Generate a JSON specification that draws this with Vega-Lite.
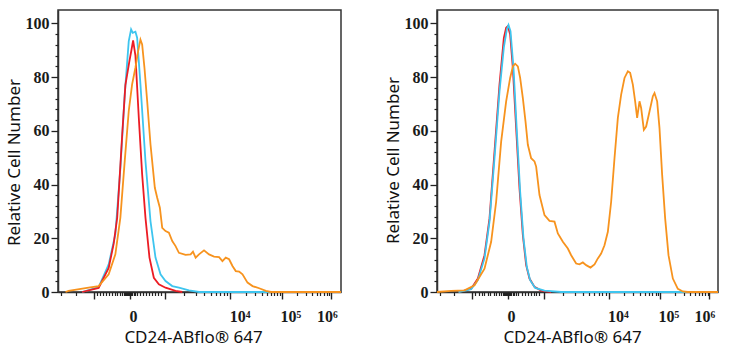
{
  "$schema": "https://vega.github.io/schema/vega-lite/v6.json",
  "padding": {"left": 4, "top": 9, "right": 5, "bottom": 0},
  "spacing": 37,
  "datasets": {
    "left": [
      {"s":"blue","x":-0.95,"y":0},{"s":"blue","x":-0.62,"y":1.8},{"s":"blue","x":-0.42,"y":10.3},{"s":"blue","x":-0.287,"y":21.5},{"s":"blue","x":-0.187,"y":46},{"s":"blue","x":-0.1,"y":73.6},{"s":"blue","x":-0.02,"y":93.4},{"s":"blue","x":0.027,"y":97.8},{"s":"blue","x":0.06,"y":96.5},{"s":"blue","x":0.113,"y":96.9},{"s":"blue","x":0.147,"y":94.7},{"s":"blue","x":0.213,"y":77.3},{"s":"blue","x":0.313,"y":48.8},{"s":"blue","x":0.413,"y":26.4},{"s":"blue","x":0.513,"y":12.8},{"s":"blue","x":0.613,"y":6.6},{"s":"blue","x":0.713,"y":4.1},{"s":"blue","x":0.847,"y":2.2},{"s":"blue","x":0.98,"y":1.6},{"s":"blue","x":1.18,"y":0.6},{"s":"blue","x":1.38,"y":0},{"s":"blue","x":4.21,"y":0},
      {"s":"red","x":-0.95,"y":0},{"s":"red","x":-0.62,"y":1.5},{"s":"red","x":-0.42,"y":9},{"s":"red","x":-0.32,"y":18},{"s":"red","x":-0.25,"y":27.7},{"s":"red","x":-0.21,"y":40},{"s":"red","x":-0.15,"y":58.7},{"s":"red","x":-0.087,"y":77},{"s":"red","x":-0.007,"y":86},{"s":"red","x":0.033,"y":90},{"s":"red","x":0.067,"y":93.7},{"s":"red","x":0.113,"y":88},{"s":"red","x":0.18,"y":65},{"s":"red","x":0.247,"y":43.8},{"s":"red","x":0.313,"y":27.7},{"s":"red","x":0.393,"y":12.8},{"s":"red","x":0.48,"y":5.3},{"s":"red","x":0.58,"y":2.9},{"s":"red","x":0.713,"y":1.6},{"s":"red","x":0.913,"y":0.4},{"s":"red","x":1.047,"y":0},
      {"s":"orange","x":-1.28,"y":0},{"s":"orange","x":-1.22,"y":0.4},{"s":"orange","x":-0.82,"y":1.6},{"s":"orange","x":-0.62,"y":2.2},{"s":"orange","x":-0.42,"y":6.6},{"s":"orange","x":-0.287,"y":14},{"s":"orange","x":-0.187,"y":27.7},{"s":"orange","x":-0.1,"y":48.8},{"s":"orange","x":-0.02,"y":67.4},{"s":"orange","x":0.047,"y":77.3},{"s":"orange","x":0.113,"y":83.5},{"s":"orange","x":0.167,"y":89.7},{"s":"orange","x":0.213,"y":94},{"s":"orange","x":0.247,"y":92.2},{"s":"orange","x":0.293,"y":83.5},{"s":"orange","x":0.347,"y":71.1},{"s":"orange","x":0.413,"y":55},{"s":"orange","x":0.5,"y":38.8},{"s":"orange","x":0.547,"y":35.1},{"s":"orange","x":0.6,"y":31.4},{"s":"orange","x":0.647,"y":23.9},{"s":"orange","x":0.713,"y":22.7},{"s":"orange","x":0.78,"y":22.1},{"s":"orange","x":0.847,"y":19},{"s":"orange","x":0.913,"y":17.1},{"s":"orange","x":0.98,"y":14.6},{"s":"orange","x":1.113,"y":13.8},{"s":"orange","x":1.213,"y":14},{"s":"orange","x":1.26,"y":15},{"s":"orange","x":1.313,"y":12.8},{"s":"orange","x":1.38,"y":14},{"s":"orange","x":1.48,"y":15.5},{"s":"orange","x":1.58,"y":14},{"s":"orange","x":1.68,"y":13.2},{"s":"orange","x":1.78,"y":13},{"s":"orange","x":1.847,"y":11.5},{"s":"orange","x":1.913,"y":12.8},{"s":"orange","x":1.98,"y":12.2},{"s":"orange","x":2.047,"y":9.7},{"s":"orange","x":2.113,"y":7.8},{"s":"orange","x":2.18,"y":7.6},{"s":"orange","x":2.247,"y":6.6},{"s":"orange","x":2.347,"y":3.5},{"s":"orange","x":2.447,"y":2.2},{"s":"orange","x":2.58,"y":1.4},{"s":"orange","x":2.713,"y":0.4},{"s":"orange","x":2.813,"y":0},{"s":"orange","x":4.21,"y":0}
    ],
    "right": [
      {"s":"red","x":-1.0,"y":0},{"s":"red","x":-0.747,"y":1.2},{"s":"red","x":-0.613,"y":5},{"s":"red","x":-0.48,"y":13.7},{"s":"red","x":-0.38,"y":27.4},{"s":"red","x":-0.28,"y":52.3},{"s":"red","x":-0.18,"y":77.2},{"s":"red","x":-0.093,"y":94.6},{"s":"red","x":-0.047,"y":98.4},{"s":"red","x":-0.013,"y":99},{"s":"red","x":0.033,"y":95.9},{"s":"red","x":0.087,"y":83.4},{"s":"red","x":0.153,"y":61},{"s":"red","x":0.22,"y":38.6},{"s":"red","x":0.287,"y":21.2},{"s":"red","x":0.353,"y":10},{"s":"red","x":0.42,"y":5},{"s":"red","x":0.52,"y":1.9},{"s":"red","x":0.653,"y":0.5},{"s":"red","x":0.853,"y":0},
      {"s":"blue","x":-1.0,"y":0},{"s":"blue","x":-0.747,"y":1},{"s":"blue","x":-0.613,"y":4.4},{"s":"blue","x":-0.48,"y":12.5},{"s":"blue","x":-0.38,"y":26.2},{"s":"blue","x":-0.28,"y":49.8},{"s":"blue","x":-0.18,"y":74.7},{"s":"blue","x":-0.093,"y":91.1},{"s":"blue","x":-0.033,"y":97.8},{"s":"blue","x":0,"y":99.4},{"s":"blue","x":0.04,"y":97.1},{"s":"blue","x":0.1,"y":83.4},{"s":"blue","x":0.167,"y":59.8},{"s":"blue","x":0.233,"y":37.4},{"s":"blue","x":0.3,"y":19.9},{"s":"blue","x":0.367,"y":9.3},{"s":"blue","x":0.433,"y":4.4},{"s":"blue","x":0.533,"y":1.5},{"s":"blue","x":0.72,"y":0.5},{"s":"blue","x":1.053,"y":0},{"s":"blue","x":4.19,"y":0},
      {"s":"orange","x":-1.43,"y":0},{"s":"orange","x":-1.147,"y":0.4},{"s":"orange","x":-0.88,"y":0.6},{"s":"orange","x":-0.68,"y":2.5},{"s":"orange","x":-0.48,"y":8.7},{"s":"orange","x":-0.347,"y":18.7},{"s":"orange","x":-0.247,"y":33.6},{"s":"orange","x":-0.147,"y":56},{"s":"orange","x":-0.047,"y":71},{"s":"orange","x":0.033,"y":79.7},{"s":"orange","x":0.087,"y":84},{"s":"orange","x":0.133,"y":85},{"s":"orange","x":0.187,"y":84},{"s":"orange","x":0.233,"y":79.7},{"s":"orange","x":0.287,"y":72.2},{"s":"orange","x":0.34,"y":63.5},{"s":"orange","x":0.387,"y":54.8},{"s":"orange","x":0.453,"y":49.8},{"s":"orange","x":0.52,"y":48.6},{"s":"orange","x":0.553,"y":46.7},{"s":"orange","x":0.62,"y":36.1},{"s":"orange","x":0.72,"y":28.6},{"s":"orange","x":0.82,"y":26.5},{"s":"orange","x":0.92,"y":26.2},{"s":"orange","x":0.987,"y":21.8},{"s":"orange","x":1.087,"y":18.7},{"s":"orange","x":1.187,"y":16.2},{"s":"orange","x":1.253,"y":13.7},{"s":"orange","x":1.353,"y":10.6},{"s":"orange","x":1.42,"y":10.3},{"s":"orange","x":1.487,"y":11},{"s":"orange","x":1.553,"y":10},{"s":"orange","x":1.64,"y":9.1},{"s":"orange","x":1.72,"y":10.3},{"s":"orange","x":1.787,"y":12.5},{"s":"orange","x":1.853,"y":14.3},{"s":"orange","x":1.92,"y":17.4},{"s":"orange","x":1.987,"y":22.4},{"s":"orange","x":2.053,"y":33.6},{"s":"orange","x":2.12,"y":49.8},{"s":"orange","x":2.187,"y":64.8},{"s":"orange","x":2.253,"y":73.5},{"s":"orange","x":2.32,"y":79.7},{"s":"orange","x":2.387,"y":82.2},{"s":"orange","x":2.433,"y":81.6},{"s":"orange","x":2.487,"y":77.2},{"s":"orange","x":2.533,"y":71},{"s":"orange","x":2.573,"y":64.8},{"s":"orange","x":2.62,"y":71},{"s":"orange","x":2.653,"y":68.5},{"s":"orange","x":2.707,"y":60.4},{"s":"orange","x":2.753,"y":61.6},{"s":"orange","x":2.82,"y":67.2},{"s":"orange","x":2.887,"y":72.9},{"s":"orange","x":2.92,"y":74.1},{"s":"orange","x":2.973,"y":71},{"s":"orange","x":3.02,"y":61},{"s":"orange","x":3.073,"y":43.6},{"s":"orange","x":3.133,"y":27.4},{"s":"orange","x":3.2,"y":13.7},{"s":"orange","x":3.287,"y":5},{"s":"orange","x":3.387,"y":1.2},{"s":"orange","x":3.487,"y":0.2},{"s":"orange","x":3.587,"y":0},{"s":"orange","x":4.19,"y":0}
    ]
  },
  "hconcat": [
    {
      "width": 283, "height": 282,
      "data": {"name": "left"},
      "layer": [
        {
          "transform": [{"filter": "datum.s == 'blue'"}],
          "mark": {"type": "line", "color": "#3ec5ef", "strokeWidth": 1.8},
          "encoding": {
            "x": {"field": "x", "type": "quantitative", "scale": {"domain": [-1.43, 4.21], "nice": false, "zero": false},
              "axis": {"orient": "bottom", "values": [0.066, 2.19, 3.2, 3.93], "ticks": false, "tickSize": 0,
                "labelExpr": "datum.value < 1 ? '0' : datum.value < 3 ? '10⁴' : datum.value < 3.5 ? '10⁵' : '10⁶'",
                "labelFont": "Liberation Serif", "labelFontSize": 16, "labelFontWeight": "bold", "labelColor": "#1a1a1a", "labelPadding": 16, "labelFlush": false, "labelOverlap": false,
                "domainColor": "#333", "domainWidth": 1.5, "grid": false,
                "title": "CD24-ABflo® 647", "titleFont": "Noto Sans", "titleFontSize": 17, "titleFontWeight": "normal", "titleColor": "#111", "titlePadding": 5, "titleX": 135}},
            "y": {"field": "y", "type": "quantitative", "scale": {"domain": [0, 105], "nice": false},
              "axis": {"orient": "left", "values": [0, 20, 40, 60, 80, 100], "tickSize": 7, "tickWidth": 1.3, "tickColor": "#222",
                "labelFont": "Liberation Serif", "labelFontSize": 16, "labelFontWeight": "bold", "labelColor": "#1a1a1a", "labelPadding": 2,
                "domainColor": "#333", "domainWidth": 1.5, "grid": false,
                "title": "Relative Cell Number", "titleFont": "Noto Sans", "titleFontSize": 17, "titleFontWeight": "normal", "titleColor": "#111", "titlePadding": 2, "titleY": 152}}
          }
        },
        {
          "transform": [{"filter": "datum.s == 'red'"}],
          "mark": {"type": "line", "color": "#ec1c24", "strokeWidth": 1.8},
          "encoding": {
            "x": {"field": "x", "type": "quantitative", "scale": {"domain": [-1.43, 4.21], "nice": false, "zero": false},
              "axis": {"orient": "bottom", "values": [-0.72, 0, 0.7, 2, 3.04, 4.02], "tickSize": 7, "tickWidth": 1.4, "tickColor": "#222",
                "labels": false, "domain": false, "grid": false, "title": null}},
            "y": {"field": "y", "type": "quantitative", "scale": {"domain": [0, 105], "nice": false},
              "axis": {"orient": "left", "values": [4, 8, 12, 16, 24, 28, 32, 36, 44, 48, 52, 56, 64, 68, 72, 76, 84, 88, 92, 96],
                "tickSize": 3, "tickWidth": 1.2, "tickColor": "#222", "labels": false, "domain": false, "grid": false, "title": null}}
          }
        },
        {
          "transform": [{"filter": "datum.s == 'orange'"}],
          "mark": {"type": "line", "color": "#f7931e", "strokeWidth": 1.8},
          "encoding": {
            "x": {"field": "x", "type": "quantitative", "scale": {"domain": [-1.43, 4.21], "nice": false, "zero": false},
              "axis": {"orient": "bottom", "values": [-1.37, -1.08, -0.66, -0.6, -0.54, -0.48, -0.42, -0.36, -0.3, -0.25, -0.2, -0.16, -0.12, -0.09, -0.07, -0.05, -0.03, -0.01, 0.01, 0.03, 0.05, 0.08, 0.11, 0.15, 0.2, 0.26, 0.32, 0.38, 0.44, 0.5, 0.56, 0.62, 1.09, 1.32, 1.48, 1.61, 1.71, 1.8, 1.87, 1.94, 2.31, 2.5, 2.63, 2.73, 2.81, 2.88, 2.94, 2.99, 3.34, 3.51, 3.63, 3.73, 3.8, 3.87, 3.93, 3.98],
                "tickSize": 3.5, "tickWidth": 1.2, "tickColor": "#222", "labels": false, "domain": false, "grid": false, "title": null}},
            "y": {"field": "y", "type": "quantitative", "scale": {"domain": [0, 105], "nice": false}, "axis": null}
          }
        }
      ],
      "resolve": {"axis": {"x": "independent", "y": "independent"}}
    },
    {
      "width": 281, "height": 282,
      "data": {"name": "right"},
      "layer": [
        {
          "transform": [{"filter": "datum.s == 'red'"}],
          "mark": {"type": "line", "color": "#ec1c24", "strokeWidth": 1.8},
          "encoding": {
            "x": {"field": "x", "type": "quantitative", "scale": {"domain": [-1.43, 4.19], "nice": false, "zero": false},
              "axis": {"orient": "bottom", "values": [0.05, 2.19, 3.2, 3.92], "ticks": false, "tickSize": 0,
                "labelExpr": "datum.value < 1 ? '0' : datum.value < 3 ? '10⁴' : datum.value < 3.5 ? '10⁵' : '10⁶'",
                "labelFont": "Liberation Serif", "labelFontSize": 16, "labelFontWeight": "bold", "labelColor": "#1a1a1a", "labelPadding": 16, "labelFlush": false, "labelOverlap": false,
                "domainColor": "#333", "domainWidth": 1.5, "grid": false,
                "title": "CD24-ABflo® 647", "titleFont": "Noto Sans", "titleFontSize": 17, "titleFontWeight": "normal", "titleColor": "#111", "titlePadding": 5, "titleX": 135}},
            "y": {"field": "y", "type": "quantitative", "scale": {"domain": [0, 105], "nice": false},
              "axis": {"orient": "left", "values": [0, 20, 40, 60, 80, 100], "tickSize": 7, "tickWidth": 1.3, "tickColor": "#222",
                "labelFont": "Liberation Serif", "labelFontSize": 16, "labelFontWeight": "bold", "labelColor": "#1a1a1a", "labelPadding": 2,
                "domainColor": "#333", "domainWidth": 1.5, "grid": false,
                "title": "Relative Cell Number", "titleFont": "Noto Sans", "titleFontSize": 17, "titleFontWeight": "normal", "titleColor": "#111", "titlePadding": 2, "titleY": 150}}
          }
        },
        {
          "transform": [{"filter": "datum.s == 'blue'"}],
          "mark": {"type": "line", "color": "#3ec5ef", "strokeWidth": 1.8},
          "encoding": {
            "x": {"field": "x", "type": "quantitative", "scale": {"domain": [-1.43, 4.19], "nice": false, "zero": false},
              "axis": {"orient": "bottom", "values": [-0.72, 0, 0.7, 2, 3.04, 4.02], "tickSize": 7, "tickWidth": 1.4, "tickColor": "#222",
                "labels": false, "domain": false, "grid": false, "title": null}},
            "y": {"field": "y", "type": "quantitative", "scale": {"domain": [0, 105], "nice": false},
              "axis": {"orient": "left", "values": [4, 8, 12, 16, 24, 28, 32, 36, 44, 48, 52, 56, 64, 68, 72, 76, 84, 88, 92, 96],
                "tickSize": 3, "tickWidth": 1.2, "tickColor": "#222", "labels": false, "domain": false, "grid": false, "title": null}}
          }
        },
        {
          "transform": [{"filter": "datum.s == 'orange'"}],
          "mark": {"type": "line", "color": "#f7931e", "strokeWidth": 1.8},
          "encoding": {
            "x": {"field": "x", "type": "quantitative", "scale": {"domain": [-1.43, 4.19], "nice": false, "zero": false},
              "axis": {"orient": "bottom", "values": [-1.37, -1.08, -0.66, -0.6, -0.54, -0.48, -0.42, -0.36, -0.3, -0.25, -0.2, -0.16, -0.12, -0.09, -0.07, -0.05, -0.03, -0.01, 0.01, 0.03, 0.05, 0.08, 0.11, 0.15, 0.2, 0.26, 0.32, 0.38, 0.44, 0.5, 0.56, 0.62, 1.09, 1.32, 1.48, 1.61, 1.71, 1.8, 1.87, 1.94, 2.31, 2.5, 2.63, 2.73, 2.81, 2.88, 2.94, 2.99, 3.34, 3.51, 3.63, 3.73, 3.8, 3.87, 3.93, 3.98],
                "tickSize": 3.5, "tickWidth": 1.2, "tickColor": "#222", "labels": false, "domain": false, "grid": false, "title": null}},
            "y": {"field": "y", "type": "quantitative", "scale": {"domain": [0, 105], "nice": false}, "axis": null}
          }
        }
      ],
      "resolve": {"axis": {"x": "independent", "y": "independent"}}
    }
  ],
  "config": {
    "view": {"stroke": "#333", "strokeWidth": 1.5},
    "background": "white"
  }
}
